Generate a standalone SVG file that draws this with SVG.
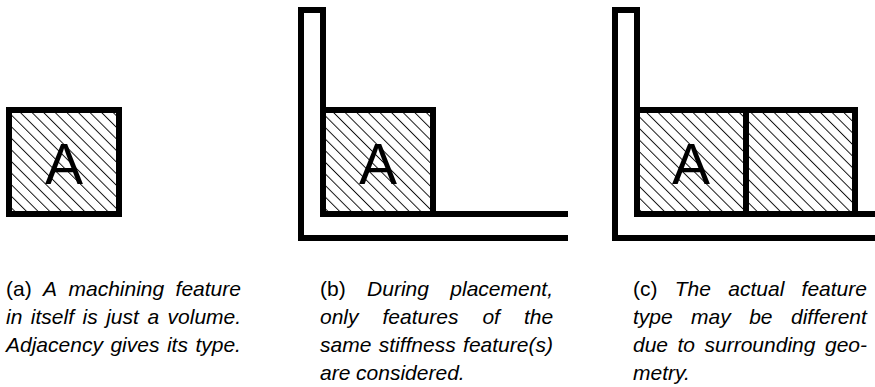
<svg xmlns="http://www.w3.org/2000/svg" width="875" height="387" viewBox="0 0 875 387">
<style>
.w{fill:none;stroke:#000;stroke-width:6;stroke-linejoin:miter;stroke-linecap:butt}
.box{fill:url(#hatch);stroke:#000;stroke-width:6}
.lab{font-family:"Liberation Sans",Arial,sans-serif;font-size:57px;fill:#000;text-anchor:middle}
.cap{font-family:"Liberation Sans",Arial,sans-serif;font-size:21px;font-style:italic;fill:#000}
.up{font-style:normal}
</style>
<defs>
<pattern id="hatch" patternUnits="userSpaceOnUse" width="8.2" height="8.2" patternTransform="rotate(-45)">
<rect width="8.2" height="8.2" fill="#fff"/>
<line x1="0.5" y1="0" x2="0.5" y2="8.2" stroke="#000" stroke-width="0.9"/>
</pattern>
</defs>
<rect width="875" height="387" fill="#fff"/>

<g id="panel-a">
<g id="feature-a">
<rect class="box" x="9" y="110" width="110" height="104"/>
<text class="lab" x="64" y="184">A</text>
</g>
<text class="cap"><tspan class="up" x="6" y="296">(a)</tspan><tspan x="43.1" y="296">A</tspan><tspan x="68.5" y="296">machining</tspan><tspan x="175.6" y="296">feature</tspan></text>
<text class="cap"><tspan x="6" y="324">in</tspan><tspan x="30.8" y="324">itself</tspan><tspan x="82.5" y="324">is</tspan><tspan x="106.2" y="324">just</tspan><tspan x="147.4" y="324">a</tspan><tspan x="167.6" y="324">volume.</tspan></text>
<text class="cap"><tspan x="6" y="352">Adjacency</tspan><tspan x="110.4" y="352">gives</tspan><tspan x="166.9" y="352">its</tspan><tspan x="195.4" y="352">type.</tspan></text>
</g>

<g id="panel-b">
<g id="wall-b">
<path class="w" d="M323,110 V10 H301 V238 H568"/>
<path class="w" d="M433,214 H568"/>
</g>
<g id="feature-b">
<rect class="box" x="323" y="110" width="110" height="104"/>
<text class="lab" x="378" y="184">A</text>
</g>
<text class="cap"><tspan class="up" x="320" y="296">(b)</tspan><tspan x="367.1" y="296">During</tspan><tspan x="450.3" y="296">placement,</tspan></text>
<text class="cap"><tspan x="320" y="324">only</tspan><tspan x="382.5" y="324">features</tspan><tspan x="482.4" y="324">of</tspan><tspan x="523.9" y="324">the</tspan></text>
<text class="cap"><tspan x="320" y="352">same</tspan><tspan x="378.7" y="352">stiffness</tspan><tspan x="463.1" y="352">feature(s)</tspan></text>
<text class="cap"><tspan x="320" y="380">are</tspan><tspan x="356.1" y="380">considered.</tspan></text>
</g>

<g id="panel-c">
<g id="wall-c">
<path class="w" d="M637,110 V10 H615 V238 H875"/>
<path class="w" d="M855,214 H875"/>
</g>
<g id="feature-c1">
<rect class="box" x="637" y="110" width="109" height="104"/>
<text class="lab" x="691" y="184">A</text>
</g>
<g id="feature-c2">
<rect class="box" x="746" y="110" width="109" height="104"/>
</g>
<text class="cap"><tspan class="up" x="633" y="296">(c)</tspan><tspan x="674.8" y="296">The</tspan><tspan x="728.3" y="296">actual</tspan><tspan x="801.6" y="296">feature</tspan></text>
<text class="cap"><tspan x="633" y="324">type</tspan><tspan x="691.1" y="324">may</tspan><tspan x="749.2" y="324">be</tspan><tspan x="791" y="324">different</tspan></text>
<text class="cap"><tspan x="633" y="352">due</tspan><tspan x="677.5" y="352">to</tspan><tspan x="704.5" y="352">surrounding</tspan><tspan x="825" y="352">geo-</tspan></text>
<text class="cap"><tspan x="633" y="380">metry.</tspan></text>
</g>
</svg>
